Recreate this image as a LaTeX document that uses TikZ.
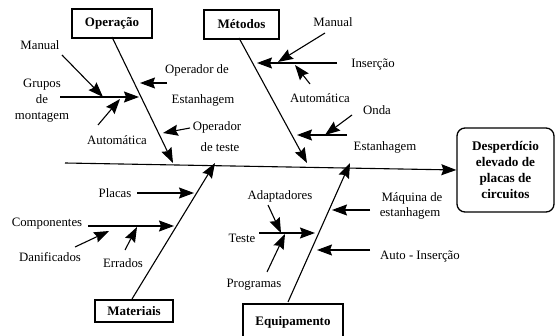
\documentclass[tikz,border=0pt]{standalone}
\usepackage{fontspec}
\setmainfont{Liberation Serif}
\usetikzlibrary{arrows.meta}
\begin{document}
\begin{tikzpicture}[x=1pt,y=-1pt,
  ln/.style={line width=1.1pt},
  arr/.style={ln,-{Stealth[length=15pt,width=11pt,inset=2pt]}},
  lbl/.style={font=\fontsize{12.8}{16}\selectfont, inner sep=0pt, align=center},
  cat/.style={draw, line width=1.3pt, font=\bfseries\fontsize{13}{15}\selectfont, inner sep=0pt},
  effect/.style={draw, line width=1.3pt, rounded corners=8pt, font=\bfseries\fontsize{13.2}{16}\selectfont, align=center, inner sep=0pt}
]
\useasboundingbox (0,0) rectangle (556,336);

% category boxes
\node[cat, minimum width=80pt, minimum height=29pt] (op) at (112,23.5) {Operação};
\node[cat, minimum width=75pt, minimum height=29pt] (me) at (241.5,24.5) {Métodos};
\node[cat, minimum width=78pt, minimum height=22pt] (ma) at (134,311) {Materiais};
\node[cat, minimum width=100pt, minimum height=36pt] (eq) at (293,322) {Equipamento};
\node[effect, minimum width=97pt, minimum height=84pt] (ef) at (505.5,170) {Desperdício\\elevado de\\placas de\\circuitos};

% spine
\coordinate (sp0) at (65,163);
\draw[arr] (sp0) -- (ef.west);

% main bones
\coordinate (opA) at (112,37);   \coordinate (opB) at (173,163);
\coordinate (meA) at (239,38);   \coordinate (meB) at (307,163);
\coordinate (maA) at (132,299);  \coordinate (maB) at (215,163);
\coordinate (eqA) at (288,302);  \coordinate (eqB) at (350,163);
\draw[arr] (opA) -- (opB);
\draw[arr] (meA) -- (meB);
\draw[arr] (maA) -- (maB);
\draw[arr] (eqA) -- (eqB);

% ---- Operação causes
\node[lbl] (opman) at (40,45) {Manual};
\node[lbl] (opgru) at (42,101) {Grupos\\de\\montagem};
\node[lbl] (opaut) at (117,140) {Automática};
\node[lbl] (opoe1) at (197,70) {Operador de};
\node[lbl] (opoe2) at (203,100) {Estanhagem};
\node[lbl] (opot1) at (217,127) {Operador};
\node[lbl] (opot2) at (220,147) {de teste};
\coordinate (g0) at (60,97);  \coordinate (g1) at (139,97);
\draw[arr] (g0) -- (g1);
\coordinate (mn0) at (62,55); \coordinate (mn1) at (103,97);
\draw[arr] (mn0) -- (mn1);
\coordinate (au0) at (98,125); \coordinate (au1) at (120,99);
\draw[arr] (au0) -- (au1);
\coordinate (oe0) at (167,83); \coordinate (oe1) at (140,83);
\draw[arr] (oe0) -- (oe1);
\coordinate (ot0) at (190,128); \coordinate (ot1) at (163,133);
\draw[arr] (ot0) -- (ot1);

% ---- Métodos causes
\node[lbl] (meman) at (333,22) {Manual};
\node[lbl] (meins) at (373,65) {Inserção};
\node[lbl] (meaut) at (320,98) {Automática};
\node[lbl] (meond) at (377,110) {Onda};
\node[lbl] (meest) at (385,147) {Estanhagem};
\coordinate (in0) at (337,63); \coordinate (in1) at (257,63);
\draw[arr] (in0) -- (in1);
\coordinate (mm0) at (325,33); \coordinate (mm1) at (278,62);
\draw[arr] (mm0) -- (mm1);
\coordinate (ma0) at (310,84); \coordinate (ma1) at (295,65);
\draw[arr] (ma0) -- (ma1);
\coordinate (es0) at (347,135); \coordinate (es1) at (297,135);
\draw[arr] (es0) -- (es1);
\coordinate (on0) at (352,115); \coordinate (on1) at (325,135);
\draw[arr] (on0) -- (on1);

% ---- Materiais causes
\node[lbl] (mapla) at (115,193) {Placas};
\node[lbl] (macom) at (47,224) {Componentes};
\node[lbl] (madan) at (50,257) {Danificados};
\node[lbl] (maerr) at (123,263) {Errados};
\coordinate (pl0) at (137,193); \coordinate (pl1) at (194,193);
\draw[arr] (pl0) -- (pl1);
\coordinate (co0) at (88,226); \coordinate (co1) at (174,226);
\draw[arr] (co0) -- (co1);
\coordinate (da0) at (75,247); \coordinate (da1) at (109,231);
\draw[arr] (da0) -- (da1);
\coordinate (er0) at (125,250); \coordinate (er1) at (137,227);
\draw[arr] (er0) -- (er1);

% ---- Equipamento causes
\node[lbl] (eqada) at (280,196) {Adaptadores};
\node[lbl] (eqtes) at (242,238) {Teste};
\node[lbl] (eqpro) at (254,285) {Programas};
\node[lbl] (eqmq1) at (412,198) {Máquina de};
\node[lbl] (eqmq2) at (410,213) {estanhagem};
\node[lbl] (eqai) at (420,257) {Auto - Inserção};
\coordinate (te0) at (259,233); \coordinate (te1) at (315,233);
\draw[arr] (te0) -- (te1);
\coordinate (ad0) at (268,205); \coordinate (ad1) at (281,233);
\draw[arr] (ad0) -- (ad1);
\coordinate (pr0) at (267,272); \coordinate (pr1) at (285,234);
\draw[arr] (pr0) -- (pr1);
\coordinate (mq0) at (370,210); \coordinate (mq1) at (332,210);
\draw[arr] (mq0) -- (mq1);
\coordinate (ai0) at (370,250); \coordinate (ai1) at (317,250);
\draw[arr] (ai0) -- (ai1);
\end{tikzpicture}
\end{document}
